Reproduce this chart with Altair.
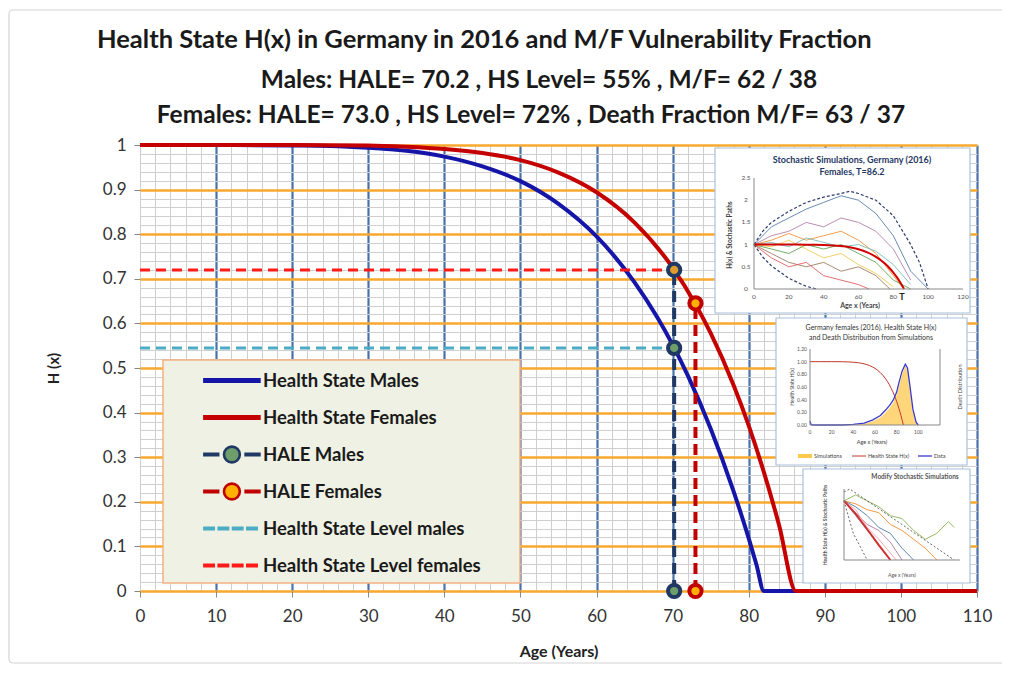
import altair as alt
import pandas as pd

# ---------------- data ----------------
age_males = [0, 10, 20, 25, 30, 35, 40, 45, 50, 55, 60, 65, 68, 70, 72, 75, 78, 80, 81, 82, 110]
hs_males = [1.0, 1.0, 0.999, 0.998, 0.994, 0.987, 0.974, 0.952, 0.919, 0.868, 0.795, 0.692, 0.613,
            0.552, 0.483, 0.364, 0.224, 0.118, 0.060, 0.0, 0.0]
age_females = [0, 10, 20, 30, 35, 40, 45, 50, 55, 60, 65, 70, 73, 75, 78, 80, 82, 84, 86.2, 110]
hs_females = [1.0, 1.0, 1.0, 0.999, 0.996, 0.991, 0.982, 0.966, 0.938, 0.894, 0.826, 0.725, 0.643,
              0.578, 0.462, 0.371, 0.266, 0.147, 0.0, 0.0]

hale_males = 70.2
hale_females = 73.0
hs_level_males = 0.545
hs_level_females = 0.72
male_marker_y = [0.0, 0.545, 0.72]
female_marker_y = [0.0, 0.645]

legend_labels = ["Health State Males", "Health State Females", "HALE Males", "HALE Females",
                 "Health State Level males", "Health State Level females"]

x_ticks = [v for v in range(0, 111, 2)]
y_ticks = [round(i * 0.02, 2) for i in range(51)]

title_lines = ["Health State H(x) in Germany in 2016 and M/F Vulnerability Fraction",
               "Males: HALE= 70.2 , HS Level= 55% , M/F= 62 / 38",
               "Females: HALE= 73.0 , HS Level= 72% , Death Fraction M/F= 63 / 37"]

# inset 1: stochastic simulations
ins1_env_up_age = [0, 5, 10, 20, 30, 40, 50, 55, 60, 70, 80, 90, 95, 100]
ins1_env_up = [1.0, 1.3, 1.5, 1.75, 1.95, 2.07, 2.15, 2.2, 2.15, 2.0, 1.65, 1.0, 0.6, 0.0]
ins1_env_lo_age = [0, 5, 10, 20, 30, 36]
ins1_env_lo = [1.0, 0.72, 0.52, 0.24, 0.06, 0.0]
ins1_paths = {
    "p1": ([0, 10, 20, 30, 40, 50, 60, 70, 80, 90, 100], [1.0, 1.4, 1.6, 1.8, 1.95, 2.1, 2.0, 1.7, 1.2, 0.4, 0.0]),
    "p2": ([0, 10, 20, 30, 40, 50, 60, 70, 80, 90], [1.0, 1.2, 1.3, 1.5, 1.4, 1.6, 1.5, 1.3, 0.9, 0.2]),
    "p3": ([0, 10, 20, 30, 40, 50, 60, 70, 80, 86], [1.0, 1.1, 1.25, 1.1, 1.2, 1.3, 1.1, 0.8, 0.3, 0.0]),
    "p4": ([0, 10, 20, 30, 40, 50, 60, 70, 80, 90], [1.0, 0.9, 0.8, 1.0, 0.9, 1.0, 0.8, 0.6, 0.2, 0.0]),
    "p5": ([0, 10, 20, 30, 40, 50, 60, 70, 78], [1.0, 0.8, 0.6, 0.5, 0.6, 0.4, 0.5, 0.3, 0.0]),
    "p6": ([0, 10, 20, 30, 40, 50, 60, 66], [1.0, 0.7, 0.5, 0.6, 0.3, 0.2, 0.1, 0.0]),
    "p7": ([0, 10, 20, 30, 40, 50, 60, 70, 80, 90], [1.0, 1.05, 0.95, 1.15, 1.05, 0.95, 1.0, 0.85, 0.55, 0.1]),
    "p8": ([0, 10, 20, 30, 40, 50, 60, 70, 80], [1.0, 0.95, 1.1, 0.9, 0.7, 0.8, 0.55, 0.35, 0.05]),
}
ins1_colors = ["#4E79A7", "#B07AA1", "#F28E2B", "#59A14F", "#9C755F", "#E15759", "#76B7B2", "#EDC948"]
ins1_xticks = [0, 20, 40, 60, 80, 100, 120]
ins1_yticks = [0, 0.5, 1, 1.5, 2, 2.5]

# inset 2: H(x) and death distribution
ins2_data_age = [0, 1, 3, 10, 20, 30, 40, 50, 58, 65, 70, 74, 77, 80, 82, 85, 88, 90, 92, 95, 98, 100]
ins2_data = [0.06, 0.01, 0.0, 0.0, 0.0, 0.0, 0.01, 0.03, 0.08, 0.15, 0.24, 0.32, 0.40, 0.52, 0.66, 0.85,
             0.96, 0.9, 0.65, 0.25, 0.04, 0.0]
ins2_sim_age = [40, 50, 58, 65, 70, 74, 77, 80, 82, 85, 88, 90, 92, 95, 98, 100]
ins2_sim = [0.0, 0.02, 0.06, 0.12, 0.2, 0.28, 0.36, 0.48, 0.6, 0.8, 0.93, 0.88, 0.62, 0.22, 0.03, 0.0]
ins2_xticks = [0, 20, 40, 60, 80, 100]
ins2_yticks = [0.0, 0.2, 0.4, 0.6, 0.8, 1.0, 1.2]

# inset 3: modified stochastic simulations
ins3_red_age = [0, 10, 20, 30, 40]
ins3_red = [1.0, 0.78, 0.52, 0.25, 0.0]
ins3_env_up_age = [0, 5, 95]
ins3_env_up = [1.15, 1.2, 0.0]
ins3_env_lo_age = [0, 8, 20]
ins3_env_lo = [1.0, 0.45, 0.0]
ins3_paths = {
    "q1": ([0, 10, 20, 30, 40, 50, 60, 70, 80, 90, 95], [1.0, 1.1, 1.0, 0.9, 0.75, 0.7, 0.5, 0.35, 0.45, 0.65, 0.55]),
    "q2": ([0, 10, 20, 30, 40, 50, 60, 70, 80], [1.0, 0.95, 0.85, 0.8, 0.6, 0.5, 0.35, 0.2, 0.0]),
    "q3": ([0, 10, 20, 30, 40, 50, 60], [1.0, 0.9, 0.75, 0.55, 0.45, 0.2, 0.0]),
    "q4": ([0, 10, 20, 30, 40, 50], [1.0, 0.8, 0.6, 0.5, 0.3, 0.0]),
    "q5": ([0, 10, 20, 30, 40], [1.0, 0.75, 0.5, 0.25, 0.0]),
    "q6": ([0, 10, 20, 30, 45], [1.0, 0.85, 0.55, 0.35, 0.0]),
}
ins3_colors = ["#8DB255", "#F28E2B", "#4E79A7", "#B07AA1", "#76B7B2", "#FF9DA7"]

FONT = "Lato"
W, H = 837, 446

# ---------------- main chart ----------------
xsc = alt.Scale(domain=[0, 110], nice=False, zero=False)
ysc = alt.Scale(domain=[0, 1], nice=False)

x_axis = alt.Axis(
    values=x_ticks, title="Age (Years)", domain=False,
    grid=True,
    gridColor={"condition": {"test": "datum.value % 10 === 0 && datum.value > 0", "value": "#4A72A8"},
               "value": "#CFCFCF"},
    gridWidth={"condition": {"test": "datum.value % 10 === 0 && datum.value > 0", "value": 2.2},
               "value": 1},
    ticks=True, tickSize=6,
    tickColor={"condition": {"test": "datum.value % 10 === 0", "value": "#888888"}, "value": "transparent"},
    labelExpr="datum.value % 10 === 0 ? datum.label : ''",
    labelOverlap=False, labelFlush=False, labelBound=False,
    labelFont=FONT, labelFontSize=17, labelColor="#333333", labelPadding=11,
    titleFont=FONT, titleFontSize=16, titleFontWeight="bold", titleColor="#222222", titlePadding=19,
)
y_axis = alt.Axis(
    values=y_ticks, title="H (x)", domain=False,
    grid=True,
    gridColor={"condition": {"test": "round(datum.value*50) % 5 === 0", "value": "#F9A92E"},
               "value": "#CFCFCF"},
    gridWidth={"condition": {"test": "round(datum.value*50) % 5 === 0", "value": 2.6},
               "value": 1},
    ticks=True, tickSize=6,
    tickColor={"condition": {"test": "round(datum.value*50) % 5 === 0", "value": "#888888"},
               "value": "transparent"},
    labelExpr="round(datum.value*50) % 5 === 0 ? format(datum.value, '.1~f') : ''",
    labelOverlap=False, labelFlush=False, labelBound=False,
    labelFont=FONT, labelFontSize=17, labelColor="#333333", labelPadding=8,
    titleFont=FONT, titleFontSize=15, titleFontWeight="bold", titleColor="#222222", titlePadding=41,
)

one = pd.DataFrame({"k": [0]})

frame = alt.Chart(one).mark_rect(fillOpacity=0, stroke="#D4D4D4", strokeWidth=1.2, cornerRadius=4).encode(
    x=alt.value(-131), x2=alt.value(1100), y=alt.value(-135), y2=alt.value(518))


def X(f="age"):
    return alt.X(f"{f}:Q", scale=xsc, axis=x_axis)


def Y(f="h"):
    return alt.Y(f"{f}:Q", scale=ysc, axis=y_axis)


grid = alt.Chart(pd.DataFrame({"age": [0, 110], "h": [0, 1]})).mark_point(opacity=0).encode(x=X(), y=Y())

df_m = pd.DataFrame({"age": age_males, "h": hs_males})
df_f = pd.DataFrame({"age": age_females, "h": hs_females})

line_m = alt.Chart(df_m).mark_line(color="#1515A8", strokeWidth=4, interpolate="monotone").encode(x=X(), y=Y())
line_f = alt.Chart(df_f).mark_line(color="#C40000", strokeWidth=4, interpolate="monotone").encode(x=X(), y=Y())

df_lvl = pd.DataFrame({"x0": [0, 0], "x1": [hale_males, hale_males],
                       "y": [hs_level_males, hs_level_females],
                       "s": ["m", "f"]})
lvl_m = alt.Chart(df_lvl[df_lvl.s == "m"]).mark_rule(color="#4BACC6", strokeWidth=3, strokeDash=[10, 6]).encode(
    x=X("x0"), x2="x1:Q", y=Y("y"))
lvl_f = alt.Chart(df_lvl[df_lvl.s == "f"]).mark_rule(color="#FF1A1A", strokeWidth=3, strokeDash=[10, 6]).encode(
    x=X("x0"), x2="x1:Q", y=Y("y"))

df_hv = pd.DataFrame({"x": [hale_males, hale_females], "y0": [0, 0],
                      "y1": [max(male_marker_y), max(female_marker_y)], "s": ["m", "f"]})
hv_m = alt.Chart(df_hv[df_hv.s == "m"]).mark_rule(color="#1F3864", strokeWidth=4, strokeDash=[11, 6]).encode(
    x=X("x"), y=Y("y0"), y2="y1:Q")
hv_f = alt.Chart(df_hv[df_hv.s == "f"]).mark_rule(color="#C00000", strokeWidth=4, strokeDash=[11, 6]).encode(
    x=X("x"), y=Y("y0"), y2="y1:Q")

df_pts = pd.DataFrame({
    "x": [hale_males] * len(male_marker_y) + [hale_females] * len(female_marker_y),
    "y": male_marker_y + female_marker_y,
    "ring": ["#1F3864", "#1F3864", "#1F3864", "#C00000", "#C00000"],
    "core": ["#6E9E6A", "#6E9E6A", "#E29A2C", "#FFB000", "#FFB000"],
})
pts = alt.Chart(df_pts).mark_point(filled=True, size=150, strokeWidth=4, opacity=1).encode(
    x=X("x"), y=Y("y"),
    fill=alt.Fill("core:N", scale=None),
    stroke=alt.Stroke("ring:N", scale=None),
)

# legend (built by Vega-Lite from a clipped dummy layer)
u = 11.0  # unit in px of legend symbol path (sqrt(size)/2)


def rect(x0, x1, hh):
    return f"M{x0},{-hh}H{x1}V{hh}H{x0}Z"


def circ(cx, r):
    return f"M{cx - r},0A{r},{r} 0 1,0 {cx + r},0A{r},{r} 0 1,0 {cx - r},0Z"


s0, s1 = 1.9, 6.9
pad_v = "M4,-0.95ZM4,0.95Z"  # equal vertical extent for every legend row
solid = rect(s0, s1, 0.1) + pad_v
hale = rect(s0, s0 + 1.25, 0.07) + circ((s0 + s1) / 2, 0.72) + rect(s1 - 1.25, s1, 0.07) + pad_v
dashed = "".join(rect(s0 + i * 1.3, s0 + i * 1.3 + 0.85, 0.06) for i in range(4)) + pad_v
shape_range = [solid, solid, hale, hale, dashed, dashed]
fill_range = ["#1515A8", "#C40000", "#6E9E6A", "#FFB000", "#4BACC6", "#FF1A1A"]
stroke_range = ["#1515A8", "#C40000", "#1F3864", "#C00000", "#4BACC6", "#FF1A1A"]


def make_legend():
    return alt.Legend(
        orient="none", legendX=23, legendY=215, title=None,
        padding=8, rowPadding=4, labelOffset=67,
        labelFont=FONT, labelFontSize=18.5, labelFontWeight="bold", labelColor="#1A1A1A",
        labelLimit=700,
        symbolStrokeWidth=2.6, symbolSize=(2 * u) ** 2,
    )


leg_box = alt.Chart(one).mark_rect(fill="#EEF1E3", stroke="#F4B183", strokeWidth=1.5).encode(
    x=alt.value(23), x2=alt.value(380), y=alt.value(215), y2=alt.value(438))

leg_df = pd.DataFrame({"series": legend_labels, "x": [-50] * 6, "y": [0.5] * 6})
leg = alt.Chart(leg_df).mark_point(filled=True, clip=True, size=(2 * u) ** 2, strokeWidth=2.6, opacity=1).encode(
    x=X("x"), y=Y("y"),
    shape=alt.Shape("series:N", sort=legend_labels,
                    scale=alt.Scale(domain=legend_labels, range=shape_range), legend=make_legend()),
    fill=alt.Fill("series:N", sort=legend_labels,
                  scale=alt.Scale(domain=legend_labels, range=fill_range), legend=make_legend()),
    stroke=alt.Stroke("series:N", sort=legend_labels,
                      scale=alt.Scale(domain=legend_labels, range=stroke_range), legend=make_legend()),
)

# titles
t_style = dict(font=FONT, fontWeight="bold", color="#1A1A1A", baseline="middle")
title1 = alt.Chart(one).mark_text(align="left", fontSize=25.5, **t_style).encode(
    x=alt.value(-43), y=alt.value(-105), text=alt.value(title_lines[0]))
title2 = alt.Chart(one).mark_text(align="center", fontSize=24.5, **t_style).encode(
    x=alt.value(399), y=alt.value(-64), text=alt.value(title_lines[1]))
title3 = alt.Chart(one).mark_text(align="center", fontSize=24.5, **t_style).encode(
    x=alt.value(391), y=alt.value(-29), text=alt.value(title_lines[2]))


# inset boxes
def box(x0, x1, y0, y1):
    return alt.Chart(one).mark_rect(fill="white", stroke="#A9C0DB", strokeWidth=1.2).encode(
        x=alt.value(x0), x2=alt.value(x1), y=alt.value(y0), y2=alt.value(y1))


box1 = box(575, 830, 3, 168)
box2 = box(636, 827, 173, 320)
box3 = box(663, 830, 324, 438)

main = alt.layer(frame, grid, box1, box2, box3, leg_box, line_m, line_f, lvl_m, lvl_f, hv_m, hv_f, pts, leg,
                 title1, title2, title3)


# ---------------- insets ----------------
def iscales(xd, xr, yd, yr):
    return (alt.Scale(domain=xd, range=xr, nice=False, zero=False),
            alt.Scale(domain=yd, range=yr, nice=False, zero=False))


small = dict(font=FONT, fontSize=6.5, color="#555555")

# inset 1
sx1, sy1 = iscales([0, 120], [614, 823], [0, 2.5], [144, 33])
rows = []
for i, (k, (a, v)) in enumerate(ins1_paths.items()):
    for aa, vv in zip(a, v):
        rows.append({"path": k, "age": aa, "v": vv, "c": ins1_colors[i]})
df_p1 = pd.DataFrame(rows)
i1_paths = alt.Chart(df_p1).mark_line(strokeWidth=1, opacity=0.85).encode(
    x=alt.X("age:Q", scale=sx1, axis=None), y=alt.Y("v:Q", scale=sy1, axis=None),
    detail="path:N", color=alt.Color("c:N", scale=None))
i1_up = alt.Chart(pd.DataFrame({"age": ins1_env_up_age, "v": ins1_env_up})).mark_line(
    color="#2F3E6B", strokeWidth=1.2, strokeDash=[3, 2]).encode(
    x=alt.X("age:Q", scale=sx1, axis=None), y=alt.Y("v:Q", scale=sy1, axis=None))
i1_lo = alt.Chart(pd.DataFrame({"age": ins1_env_lo_age, "v": ins1_env_lo})).mark_line(
    color="#2F3E6B", strokeWidth=1.2, strokeDash=[3, 2]).encode(
    x=alt.X("age:Q", scale=sx1, axis=None), y=alt.Y("v:Q", scale=sy1, axis=None))
i1_red = alt.Chart(df_f[df_f.age <= 86.2]).mark_line(color="#D00000", strokeWidth=2, interpolate="monotone").encode(
    x=alt.X("age:Q", scale=sx1, axis=None), y=alt.Y("h:Q", scale=sy1, axis=None))
i1_xax = alt.Chart(one).mark_rule(color="#888888").encode(
    x=alt.datum(0, scale=sx1, axis=None), x2=alt.datum(120), y=alt.datum(0, scale=sy1, axis=None))
i1_yax = alt.Chart(one).mark_rule(color="#888888").encode(
    x=alt.datum(0, scale=sx1, axis=None), y=alt.datum(0, scale=sy1, axis=None), y2=alt.datum(2.5))
i1_xt = alt.Chart(pd.DataFrame({"t": ins1_xticks, "z": [0] * len(ins1_xticks)})).mark_text(
    dy=8, **small).encode(x=alt.X("t:Q", scale=sx1, axis=None), y=alt.Y("z:Q", scale=sy1, axis=None),
                          text="t:Q")
i1_yt = alt.Chart(pd.DataFrame({"t": ins1_yticks, "z": [0] * len(ins1_yticks)})).mark_text(
    dx=-8, **small).encode(x=alt.X("z:Q", scale=sx1, axis=None), y=alt.Y("t:Q", scale=sy1, axis=None),
                           text="t:Q")
i1_t1 = alt.Chart(one).mark_text(font=FONT, fontSize=9, fontWeight="bold", color="#1F3864").encode(
    x=alt.value(712), y=alt.value(15), text=alt.value("Stochastic Simulations, Germany (2016)"))
i1_t2 = alt.Chart(one).mark_text(font=FONT, fontSize=9, fontWeight="bold", color="#1F3864").encode(
    x=alt.value(712), y=alt.value(27), text=alt.value("Females, T=86.2"))
i1_xl = alt.Chart(one).mark_text(font=FONT, fontSize=7, fontWeight="bold", color="#444444").encode(
    x=alt.value(720), y=alt.value(161), text=alt.value("Age x (Years)"))
i1_yl = alt.Chart(one).mark_text(font=FONT, fontSize=6.5, fontWeight="bold", color="#444444", angle=270).encode(
    x=alt.value(590), y=alt.value(90), text=alt.value("H(x) & Stochastic Paths"))
i1_T = alt.Chart(one).mark_text(font=FONT, fontSize=9, fontWeight="bold", color="#222222").encode(
    x=alt.value(762), y=alt.value(152), text=alt.value("T"))
inset1 = alt.layer(i1_paths, i1_up, i1_lo, i1_red, i1_xax, i1_yax, i1_xt, i1_yt, i1_t1, i1_t2, i1_xl, i1_yl, i1_T)

# inset 2
sx2, sy2 = iscales([0, 120], [670, 800], [0, 1.2], [280, 204])
i2_sim = alt.Chart(pd.DataFrame({"age": ins2_sim_age, "v": ins2_sim})).mark_area(
    color="#FFC94D", opacity=0.75).encode(
    x=alt.X("age:Q", scale=sx2, axis=None), y=alt.Y("v:Q", scale=sy2, axis=None))
i2_red = alt.Chart(df_f[df_f.age <= 86.2]).mark_line(color="#C0392B", strokeWidth=1, interpolate="monotone").encode(
    x=alt.X("age:Q", scale=sx2, axis=None), y=alt.Y("h:Q", scale=sy2, axis=None))
i2_blue = alt.Chart(pd.DataFrame({"age": ins2_data_age, "v": ins2_data})).mark_line(
    color="#3A3AD0", strokeWidth=1.3).encode(
    x=alt.X("age:Q", scale=sx2, axis=None), y=alt.Y("v:Q", scale=sy2, axis=None))
i2_xax = alt.Chart(one).mark_rule(color="#888888").encode(
    x=alt.datum(0, scale=sx2, axis=None), x2=alt.datum(120), y=alt.datum(0, scale=sy2, axis=None))
i2_yax = alt.Chart(one).mark_rule(color="#888888").encode(
    x=alt.datum(0, scale=sx2, axis=None), y=alt.datum(0, scale=sy2, axis=None), y2=alt.datum(1.2))
i2_yax2 = alt.Chart(one).mark_rule(color="#888888").encode(
    x=alt.datum(120, scale=sx2, axis=None), y=alt.datum(0, scale=sy2, axis=None), y2=alt.datum(1.2))
i2_xt = alt.Chart(pd.DataFrame({"t": ins2_xticks, "z": [0] * len(ins2_xticks)})).mark_text(
    dy=7, font=FONT, fontSize=5, color="#555555").encode(
    x=alt.X("t:Q", scale=sx2, axis=None), y=alt.Y("z:Q", scale=sy2, axis=None), text="t:Q")
i2_yt = alt.Chart(pd.DataFrame({"t": ins2_yticks, "z": [0] * len(ins2_yticks)})).mark_text(
    dx=-8, font=FONT, fontSize=5, color="#555555").encode(
    x=alt.X("z:Q", scale=sx2, axis=None), y=alt.Y("t:Q", scale=sy2, axis=None),
    text=alt.Text("t:Q", format=".2f"))
i2_t1 = alt.Chart(one).mark_text(font=FONT, fontSize=7, color="#333333").encode(
    x=alt.value(731), y=alt.value(183), text=alt.value("Germany females (2016). Health State H(x)"))
i2_t2 = alt.Chart(one).mark_text(font=FONT, fontSize=7, color="#333333").encode(
    x=alt.value(731), y=alt.value(193), text=alt.value("and Death Distribution from Simulations"))
i2_xl = alt.Chart(one).mark_text(font=FONT, fontSize=5.5, color="#444444").encode(
    x=alt.value(732), y=alt.value(297), text=alt.value("Age x (Years)"))
i2_yl = alt.Chart(one).mark_text(font=FONT, fontSize=5, color="#444444", angle=270).encode(
    x=alt.value(652), y=alt.value(242), text=alt.value("Health State H(x)"))
i2_yr = alt.Chart(one).mark_text(font=FONT, fontSize=5.5, color="#444444", angle=270).encode(
    x=alt.value(820), y=alt.value(242), text=alt.value("Death Distribution"))
i2_lg_sw = alt.Chart(one).mark_rect(color="#FFC94D").encode(
    x=alt.value(658), x2=alt.value(672), y=alt.value(309), y2=alt.value(313))
i2_lg_r = alt.Chart(one).mark_rule(color="#C0392B").encode(
    x=alt.value(712), x2=alt.value(726), y=alt.value(311))
i2_lg_b = alt.Chart(one).mark_rule(color="#3A3AD0", strokeWidth=1.3).encode(
    x=alt.value(778), x2=alt.value(792), y=alt.value(311))
i2_lg_t = alt.Chart(pd.DataFrame({"lab": ["Simulations", "Health State H(x)", "Data"],
                                  "px": [674, 728, 794]})).mark_text(
    align="left", font=FONT, fontSize=5.5, color="#444444").encode(
    x=alt.X("px:Q", scale=alt.Scale(domain=[0, W], range=[0, W]), axis=None),
    y=alt.value(311), text="lab:N")
inset2 = alt.layer(i2_sim, i2_red, i2_blue, i2_xax, i2_yax, i2_yax2, i2_xt, i2_yt, i2_t1, i2_t2, i2_xl,
                   i2_yl, i2_yr, i2_lg_sw, i2_lg_r, i2_lg_b)
inset2b = i2_lg_t

# inset 3
sx3, sy3 = iscales([0, 100], [704, 820], [0, 1.2], [415, 344])
rows = []
for i, (k, (a, v)) in enumerate(ins3_paths.items()):
    for aa, vv in zip(a, v):
        rows.append({"path": k, "age": aa, "v": vv, "c": ins3_colors[i]})
df_p3 = pd.DataFrame(rows)
i3_paths = alt.Chart(df_p3).mark_line(strokeWidth=1, opacity=0.9).encode(
    x=alt.X("age:Q", scale=sx3, axis=None), y=alt.Y("v:Q", scale=sy3, axis=None),
    detail="path:N", color=alt.Color("c:N", scale=None))
i3_up = alt.Chart(pd.DataFrame({"age": ins3_env_up_age, "v": ins3_env_up})).mark_line(
    color="#444444", strokeWidth=0.8, strokeDash=[2, 2]).encode(
    x=alt.X("age:Q", scale=sx3, axis=None), y=alt.Y("v:Q", scale=sy3, axis=None))
i3_lo = alt.Chart(pd.DataFrame({"age": ins3_env_lo_age, "v": ins3_env_lo})).mark_line(
    color="#444444", strokeWidth=0.8, strokeDash=[2, 2]).encode(
    x=alt.X("age:Q", scale=sx3, axis=None), y=alt.Y("v:Q", scale=sy3, axis=None))
i3_red = alt.Chart(pd.DataFrame({"age": ins3_red_age, "v": ins3_red})).mark_line(
    color="#D03030", strokeWidth=2).encode(
    x=alt.X("age:Q", scale=sx3, axis=None), y=alt.Y("v:Q", scale=sy3, axis=None))
i3_xax = alt.Chart(one).mark_rule(color="#888888").encode(
    x=alt.datum(0, scale=sx3, axis=None), x2=alt.datum(100), y=alt.datum(0, scale=sy3, axis=None))
i3_yax = alt.Chart(one).mark_rule(color="#888888").encode(
    x=alt.datum(0, scale=sx3, axis=None), y=alt.datum(0, scale=sy3, axis=None), y2=alt.datum(1.2))
i3_t = alt.Chart(one).mark_text(font=FONT, fontSize=6.5, fontWeight="bold", color="#555555").encode(
    x=alt.value(775), y=alt.value(332), text=alt.value("Modify Stochastic Simulations"))
i3_xl = alt.Chart(one).mark_text(font=FONT, fontSize=5, color="#555555").encode(
    x=alt.value(762), y=alt.value(430), text=alt.value("Age x (Years)"))
i3_yl = alt.Chart(one).mark_text(font=FONT, fontSize=5, fontWeight="bold", color="#555555", angle=270).encode(
    x=alt.value(685), y=alt.value(380), text=alt.value("Health State H(x) & Stochastic Paths"))
inset3 = alt.layer(i3_paths, i3_up, i3_lo, i3_red, i3_xax, i3_yax, i3_t, i3_xl, i3_yl)

chart = alt.layer(main, inset1, inset2, inset2b, inset3).resolve_scale(
    x="independent", y="independent"
).resolve_axis(x="independent", y="independent").properties(
    width=W, height=H,
    autosize=alt.AutoSizeParams(type="none"),
    padding={"left": 132, "top": 137, "right": 25, "bottom": 74},
    background="white",
).configure_view(stroke=None)

chart.save("out.html", embed_options={"renderer": "svg", "actions": False})
